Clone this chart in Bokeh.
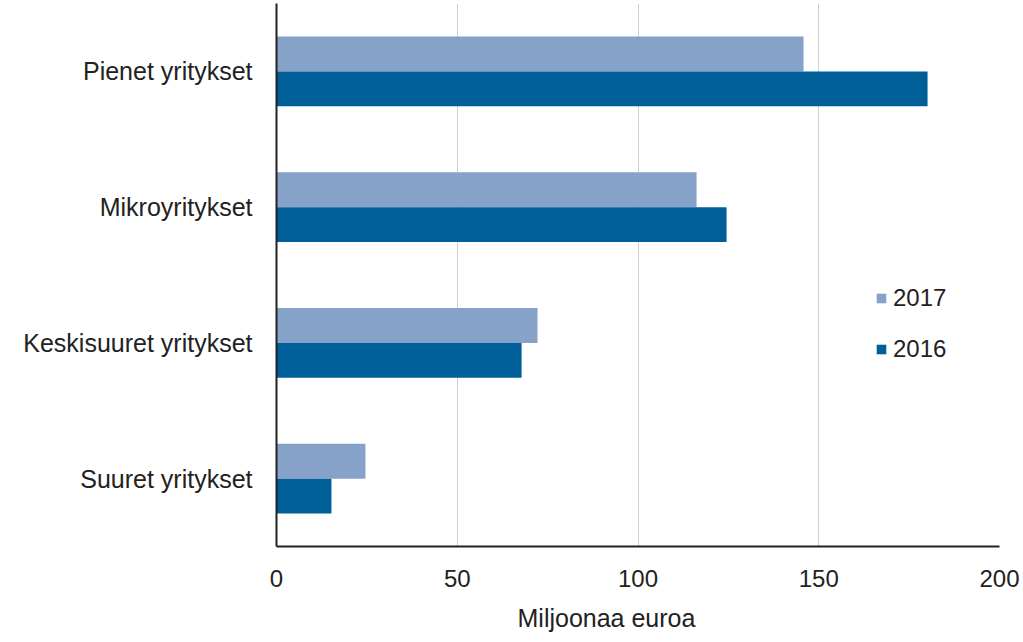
from bokeh.plotting import figure
from bokeh.models import FactorRange, Range1d, Legend, LegendItem, ColumnDataSource, FixedTicker, Title
from bokeh.transform import dodge
from bokeh.embed import file_html
from bokeh.resources import INLINE

categories = ["Suuret yritykset", "Keskisuuret yritykset", "Mikroyritykset", "Pienet yritykset"]
values_2017 = [24.6, 72.2, 116.2, 145.8]
values_2016 = [15.2, 67.8, 124.5, 180.1]
x_ticks = [0, 50, 100, 150, 200]
x_title = "Miljoonaa euroa"

FONT = "Liberation Sans"
C2017 = "#86A2C8"
C2016 = "#005E98"
TXT = "#222222"

src = ColumnDataSource(dict(cat=categories, v2017=values_2017, v2016=values_2016))

p = figure(width=1023, height=642, output_backend="svg", toolbar_location=None,
           y_range=FactorRange(factors=categories, range_padding=0),
           x_range=Range1d(0, 200))
p.min_border_left = 276
p.min_border_right = 24
p.min_border_top = 3
p.min_border_bottom = 96
p.outline_line_color = None

r17 = p.hbar(y=dodge("cat", 0.128, range=p.y_range), right="v2017", left=0, height=0.256,
             source=src, fill_color=C2017, line_color=None)
r16 = p.hbar(y=dodge("cat", -0.128, range=p.y_range), right="v2016", left=0, height=0.256,
             source=src, fill_color=C2016, line_color=None)

p.ygrid.grid_line_color = None
p.xgrid.grid_line_color = "#cfcfcf"
p.xgrid.grid_line_width = 1
p.xaxis.ticker = FixedTicker(ticks=x_ticks)

for ax in (p.xaxis[0], p.yaxis[0]):
    ax.axis_line_color = TXT
    ax.axis_line_width = 2
    ax.major_tick_line_color = None
    ax.minor_tick_line_color = None
    ax.major_label_text_font = FONT
    ax.major_label_text_color = TXT

p.xaxis.major_label_text_font_size = "24px"
p.yaxis.major_label_text_font_size = "25px"
p.xaxis.major_label_standoff = 17
p.yaxis.major_label_standoff = 18

spacer = Title(text=" ", standoff=0, text_font_size="9px")
p.add_layout(spacer, "below")
t = Title(text=x_title, align="left", offset=241, standoff=0,
          text_font=FONT, text_font_size="25px", text_color=TXT, text_font_style="normal")
p.add_layout(t, "below")

legend = Legend(items=[LegendItem(label="2017", renderers=[r17]),
                       LegendItem(label="2016", renderers=[r16])],
                location=(599, 183), orientation="vertical")
legend.padding = 0
legend.margin = 0
legend.border_line_color = None
legend.background_fill_alpha = 0
legend.glyph_width = 12
legend.glyph_height = 12
legend.label_height = 28
legend.spacing = 23
legend.label_standoff = 6
legend.label_text_font = FONT
legend.label_text_font_size = "24px"
legend.label_text_color = TXT
p.add_layout(legend, "center")

open("out.html", "w").write(file_html(p, INLINE))
